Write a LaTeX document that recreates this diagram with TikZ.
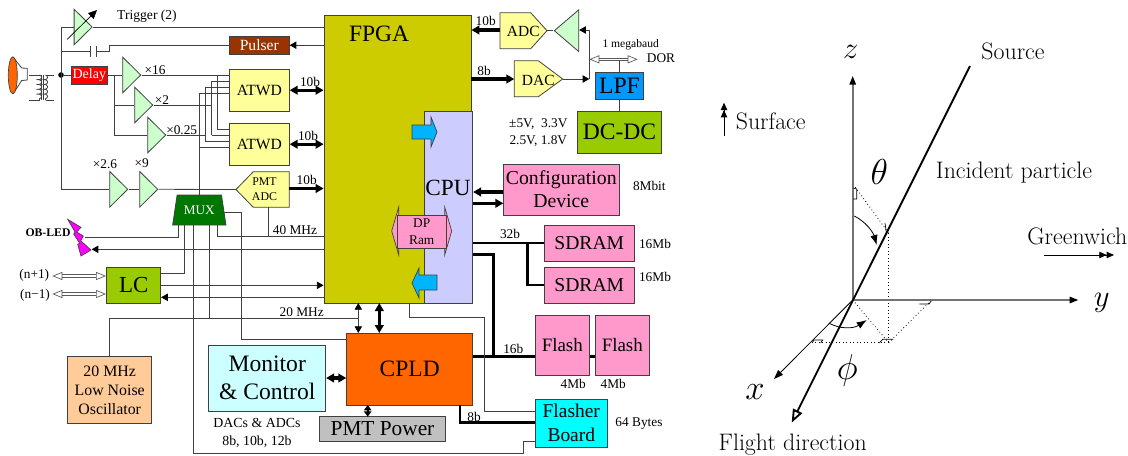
\documentclass[tikz,border=0pt]{standalone}
\usepackage{fix-cm}
\usepackage{fontspec}
\usetikzlibrary{arrows.meta,shapes.geometric,decorations.pathmorphing}
\newfontfamily\timesfont{Liberation Serif}
\definecolor{fpgacol}{HTML}{CCCC00}
\definecolor{cpucol}{HTML}{CCCCFF}
\definecolor{ampcol}{HTML}{CCFFCC}
\definecolor{yellowcol}{HTML}{FFFF99}
\definecolor{pinkcol}{HTML}{FF99CC}
\definecolor{limecol}{HTML}{99CC00}
\definecolor{muxcol}{HTML}{007700}
\definecolor{arrowcol}{HTML}{00B4FF}
\definecolor{linecol}{HTML}{404040}
\definecolor{flashercol}{HTML}{00FFFF}
\definecolor{ledcol}{HTML}{FF00FF}
\tikzset{
    block/.style 2 args={
        draw=linecol,
        line width=0.6pt,
        inner sep=0pt,
        align=center,
        minimum width=#1*0.75pt,
        minimum height=#2*0.75pt
    },
    txt/.style 2 args={font=\timesfont\fontsize{#1}{#2}\selectfont},
    lbl/.style={inner sep=0pt,align=center,txt={10}{12.4}},
    cmlbl/.style={inner sep=0pt,font=\fontsize{17.9}{21}\selectfont},
    mathlbl/.style={inner sep=0pt,font=\fontsize{23}{27}\selectfont},
    amp/.style={
        isosceles triangle,
        isosceles triangle stretches,
        draw=linecol,
        line width=0.6pt,
        fill=ampcol,
        inner sep=0pt,
        minimum width=35.6*0.75pt,
        minimum height=18*0.75pt
    },
    conv/.style={draw=linecol,line width=0.6pt,fill=yellowcol},
    ramarrow/.style={draw=linecol,line width=0.5pt,fill=arrowcol},
    ramhead/.style={draw=linecol,line width=0.5pt,fill=pinkcol},
    wire/.style={draw=linecol,line width=0.6pt},
    wireto/.style={wire,-{Triangle[black,length=5pt,width=5.5pt]}},
    wireboth/.style={wire,{Triangle[black,length=5pt,width=5.5pt]}-{Triangle[black,length=5pt,width=5.5pt]}},
    bus/.style={draw=black,line width=1.9pt},
    busto/.style={draw=black,line width=2.4pt,-{Triangle[length=6pt,width=6.5pt]}},
    busboth/.style={draw=black,line width=2.4pt,{Triangle[length=6pt,width=6.5pt]}-{Triangle[length=6pt,width=6.5pt]}},
    hollow/.style={
        draw=black!65,
        line width=0.7pt,
        double=white,
        double distance=1pt,
        {Triangle[open,fill=white,line width=0.5pt,length=7.5pt,width=6pt]}-{Triangle[open,fill=white,line width=0.5pt,length=7.5pt,width=6pt]}
    },
    axisline/.style={draw=black!55,line width=1.2pt,-{Triangle[black,length=6.5pt,width=4.8pt]}},
    guide/.style={draw=black,line width=0.6pt,dotted},
    tick/.style={draw=black,line width=0.5pt},
    bent/.style={draw=black,line width=0.6pt,-{Latex[length=7.5pt,width=5.5pt]}},
    twotip/.style={draw=black,line width=0.6pt,-{Triangle[length=5.5pt,width=4.8pt] Triangle[length=5.5pt,width=4.8pt]}}
}
\begin{document}
\begin{tikzpicture}[x=0.75pt,y=-0.75pt]
    \useasboundingbox (0,0) rectangle (1128,455);

    % Main chips
    \node[block={147}{288},fill=fpgacol] (fpga) at (397.5,159) {};
    \node[block={48.4}{192},fill=cpucol] (cpu) at (448.5,207) {};
    \node[lbl,txt={17.6}{21}] (fpgalbl) at (379,34) {FPGA};
    \node[lbl,txt={17.4}{21}] (cpulbl) at (448,188) {CPU};
    \draw[ramarrow] (412,125) -- (431,125) -- (431,117) -- (437,132) -- (431,147) -- (431,139) -- (412,139) -- cycle;
    \draw[ramarrow] (437,275) -- (419,275) -- (419,268) -- (412,283) -- (419,298) -- (419,290) -- (437,290) -- cycle;
    \draw[ramhead] (398.7,207) -- (391.7,231) -- (398.7,255) -- cycle;
    \draw[ramhead] (444.7,207) -- (451.7,231) -- (444.7,255) -- cycle;
    \node[block={48.7}{33},fill=pinkcol,txt={10}{12.3}] (dpram) at (421.7,231.5) {DP\\Ram};

    % Blocks
    \node[block={60}{18.3},fill={rgb,255:red,153;green,51;blue,0},text=white,txt={11.7}{14}] (pulser) at (259.3,45.2) {Pulser};
    \node[block={36.7}{18},fill=red,text=white,txt={10.5}{12}] (delay) at (89.3,75) {Delay};
    \node[block={60}{41.7},fill=yellowcol,txt={11.7}{14}] (atwda) at (259.3,90.2) {ATWD};
    \node[block={60}{41.7},fill=yellowcol,txt={11.7}{14}] (atwdb) at (259.3,144.2) {ATWD};
    \node[block={54}{36},fill=limecol,txt={17.2}{20}] (lc) at (133.7,285.3) {LC};
    \node[block={84}{66.6},fill={rgb,255:red,255;green,204;blue,153},txt={11.9}{14.2}] (osc) at (109.7,390) {20 MHz\\Low Noise\\Oscillator};
    \node[block={117}{66},fill={rgb,255:red,204;green,255;blue,255},txt={17.7}{21}] (monitor) at (267.2,378) {Monitor\\\& Control};
    \node[block={126}{72},fill={rgb,255:red,255;green,102;blue,0},txt={17.6}{21}] (cpld) at (409.7,369) {CPLD};
    \node[block={126.4}{24.3},fill={rgb,255:red,192;green,192;blue,192},txt={16}{19}] (pmtpower) at (382.5,428.9) {PMT Power};
    \node[block={72}{47.7},fill=flashercol,txt={14.6}{18}] (flasher) at (571.3,423.2) {Flasher\\Board};
    \node[block={54}{59.7},fill=pinkcol,txt={14.2}{17}] (flasha) at (562.3,345.2) {Flash};
    \node[block={54}{59.7},fill=pinkcol,txt={14.2}{17}] (flashb) at (622.3,345.2) {Flash};
    \node[block={90}{36.3},fill=pinkcol,txt={14.7}{17}] (sdrama) at (589.3,243.2) {SDRAM};
    \node[block={90}{35.7},fill=pinkcol,txt={14.7}{17}] (sdramb) at (589.3,285.2) {SDRAM};
    \node[block={116}{51},fill=pinkcol,txt={14.8}{17.3}] (config) at (561.3,189.5) {Configuration\\Device};
    \node[block={47.6}{26.6},fill={rgb,255:red,0;green,153;blue,255},txt={17.7}{21}] (lpf) at (619.5,86) {LPF};
    \node[block={84.4}{42.3},fill=limecol,txt={17.7}{21}] (dcdc) at (619.5,132.2) {DC-DC};
    \node[trapezium,trapezium stretches=true,trapezium left angle=70.5,trapezium right angle=70.5,draw=linecol,line width=0.6pt,fill=muxcol,text=white,inner sep=0pt,txt={9.9}{12},minimum width=53.3*0.75pt,minimum height=30*0.75pt] (mux) at (199.3,210) {MUX};

    % Converters
    \coordinate (pmtw) at (236,189.5);
    \coordinate (pmte) at (289.3,188.5);
    \coordinate (pmts) at (268.3,207.3);
    \coordinate (adcw) at (500,30);
    \coordinate (adce) at (547,30.7);
    \coordinate (dacw) at (514.3,79);
    \coordinate (dace) at (562.7,79);
    \draw[conv] (pmtw) -- (253.3,171.7) -- (289.3,171.7) -- (289.3,207.3) -- (253.3,207.3) -- cycle;
    \draw[conv] (500,12.7) -- (530.7,12.7) -- (adce) -- (530.7,48.7) -- (500,48.7) -- cycle;
    \draw[conv] (514.3,60.7) -- (538.3,60.7) -- (dace) -- (538.3,96.7) -- (514.3,96.7) -- cycle;
    \node[lbl,txt={8.9}{11}] (pmtadc) at (264.5,189.4) {PMT\\ADC};
    \node[lbl,txt={11.6}{14}] (adc) at (523.3,31.5) {ADC};
    \node[lbl,txt={11.6}{14}] (dac) at (538.3,80) {DAC};

    % Amplifiers
    \node[amp,anchor=lower side] (trig) at (73.7,27) {};
    \node[amp,anchor=lower side] (ampa) at (122.3,75) {};
    \node[amp,anchor=lower side] (ampb) at (134.3,105) {};
    \node[amp,anchor=lower side] (ampc) at (147.3,135) {};
    \node[amp,anchor=lower side] (ampd) at (109.3,189.3) {};
    \node[amp,anchor=lower side] (ampe) at (139.3,189.3) {};
    \node[amp,shape border rotate=180,anchor=apex,minimum width=41.7*0.75pt,minimum height=24.4*0.75pt] (ampf) at (553.3,30.7) {};

    % Tube and transformer
    \draw[wire,fill=white] (13,57) -- (21.7,68) -- (27.3,68.3) -- (27.3,80) -- (21.7,80.5) -- (13,94);
    \node[ellipse,draw=linecol,line width=0.5pt,fill={rgb,255:red,255;green,102;blue,0},inner sep=0pt,minimum width=9*0.75pt,minimum height=37*0.75pt] (pmt) at (12.8,75.3) {};
    \coordinate (pria) at (39.5,75);
    \coordinate (prib) at (39.5,100);
    \coordinate (seca) at (45.5,75);
    \coordinate (secb) at (45.5,100);
    \draw[wire] (29.3,75) -- (pria);
    \draw[wire] (29.3,100) -- (prib);
    \draw[wire] (seca) -- (54,75);
    \draw[wire] (secb) -- (54,100);
    \draw[wire,decorate,decoration={coil,aspect=0.5,amplitude=1.6pt,segment length=3.6pt}] (pria) -- (prib);
    \draw[wire,decorate,decoration={coil,aspect=0.5,amplitude=1.6pt,segment length=3.6pt}] (seca) -- (secb);
    \draw[wire] (41.8,75) -- (41.8,100);
    \draw[wire] (43.4,75) -- (43.4,100);
    \node[circle,fill=black,inner sep=0pt,minimum size=4.2pt] (jdot) at (61,75) {};

    % Analog wires
    \coordinate (jtop) at (61,27);
    \coordinate (jcap) at (61,51.7);
    \coordinate (jrow) at (61,189.3);
    \coordinate (capa) at (90.7,51.7);
    \coordinate (capb) at (96,51.7);
    \coordinate (capc) at (109.3,51.7);
    \coordinate (gaina) at (67,39.5);
    \coordinate (gainb) at (97,10);
    \draw[wire] (jtop) -- (jrow);
    \draw[wire] (jtop) -- (trig.lower side);
    \draw[wire] (trig.apex) -- (trig.apex -| fpga.west);
    \draw[draw=black,line width=0.5pt,-{Triangle[length=6.5pt,width=6pt]}] (gaina) -- (gainb);
    \draw[wire] (jcap) -- (capa);
    \draw[wire] (90.7,45.7) -- (90.7,57.3);
    \draw[wire] (96,45.7) -- (96,57.3);
    \draw[wire] (capb) -- (capc) |- (pulser.west);
    \draw[wireto] (pulser.east -| fpga.west) -- (pulser.east);
    \draw[wire] (jdot) -- (delay.west);
    \draw[wire] (delay.east) -- (ampa.lower side);
    \coordinate (jsplit) at (114,75);
    \draw[wire] (jsplit) |- (ampb.lower side);
    \draw[wire] (jsplit) |- (ampc.lower side);
    \draw[wire] (jrow) -- (ampd.lower side);
    \draw[wire] (ampd.apex) -- (ampe.lower side);
    \draw[wire] (ampe.apex) -- (pmtw);

    % Bus to the ATWDs
    \coordinate (busa) at (217.3,75.3);
    \coordinate (busb) at (211.7,81);
    \coordinate (busc) at (205.3,87.3);
    \coordinate (busd) at (199,93.3);
    \coordinate (buse) at (217.3,129.3);
    \coordinate (busf) at (211.7,135);
    \coordinate (busg) at (205.3,141);
    \coordinate (bush) at (199,147.3);
    \draw[wire] (ampa.apex) -- (ampa.apex -| atwda.west);
    \draw[wire] (busb) -- (busb -| atwda.west);
    \draw[wire] (busc) -- (busc -| atwda.west);
    \draw[wire] (busd) -- (busd -| atwda.west);
    \draw[wire] (buse) -- (buse -| atwdb.west);
    \draw[wire] (busf) -- (busf -| atwdb.west);
    \draw[wire] (busg) -- (busg -| atwdb.west);
    \draw[wire] (bush) -- (bush -| atwdb.west);
    \draw[wire] (busa) -- (buse);
    \draw[wire] (busb) -- (busf);
    \draw[wire] (busc) -- (busg);
    \draw[wire] (busd) -- (199,195);
    \draw[wire] (ampb.apex) -- (211.7,105);
    \draw[wire] (ampc.apex) -- (busg |- ampc.apex);

    % Around the MUX
    \coordinate (muxa) at (178.3,225);
    \coordinate (muxb) at (184.7,225);
    \coordinate (muxc) at (193.7,225);
    \coordinate (muxd) at (209.3,225);
    \coordinate (muxe) at (217.7,225);
    \coordinate (muxf) at (221.7,212.7);
    \coordinate (ledin) at (85,237.3);
    \coordinate (ledtip) at (91.7,249.3);
    \coordinate (clkin) at (358.3,318.3);
    \coordinate (clkup) at (358.3,303);
    \coordinate (clkdn) at (358.3,333);
    \coordinate (flout) at (523.3,453.3);
    \coordinate (flin) at (535.3,441.7);
    \coordinate (mcin) at (346.7,339);
    \coordinate (clkadc) at (268.3,236.7);
    \draw[wire] (muxa) |- (ledin);
    \draw[wire] (muxb) |- (lc.east |- 0,273.3);
    \draw[wire] (muxc) |- (flout) |- (flin);
    \draw[wire] (muxd) -- (muxd |- clkin);
    \draw[wire] (muxe) |- (clkadc) -- (pmts);
    \draw[wire] (clkadc) -- (clkadc -| fpga.west);
    \draw[wire] (muxf) -| (241.7,339) -- (mcin);
    \draw[wireto] (fpga.west |- ledtip) -- (ledtip);
    \draw[draw=linecol,line width=0.5pt,fill=ledcol] (67.7,219.3) -- (81,227.3) -- (76.7,232) -- (83.3,236) -- (80.7,240.7) -- (91,250) -- (81,256) -- (77.7,244.3) -- (79.7,243.3) -- (73.7,234) -- (75,232) -- cycle;
    \coordinate (npa) at (52.3,276);
    \coordinate (npb) at (106,276);
    \coordinate (nma) at (52.3,294);
    \coordinate (nmb) at (106,294);
    \draw[hollow] (npa) -- (npb);
    \draw[hollow] (nma) -- (nmb);
    \draw[wireto] (lc.east |- 0,285.3) -- (fpga.west |- 0,285.3);
    \draw[wireto] (fpga.west |- 0,297.3) -- (lc.east |- 0,297.3);
    \draw[wire] (osc.north) |- (clkin);
    \draw[wireboth] (clkup) -- (clkdn);

    % Digital buses
    \coordinate (ctlup) at (379.3,303);
    \coordinate (ctldn) at (379.3,333);
    \coordinate (cfgin) at (503.3,192);
    \coordinate (cfgout) at (503.3,203.3);
    \coordinate (jram) at (527.3,243);
    \coordinate (cpub) at (472.7,254.3);
    \coordinate (jflash) at (493.3,356.7);
    \coordinate (cpldr) at (472.7,356.7);
    \coordinate (cpldb) at (460,405);
    \coordinate (flbus) at (535.3,422.7);
    \coordinate (fpgab) at (409.3,303);
    \coordinate (jfl) at (484,317.3);
    \coordinate (flsig) at (535.3,411);
    \draw[busboth] (atwda.east) -- (atwda.east -| fpga.west);
    \draw[busboth] (atwdb.east) -- (atwdb.east -| fpga.west);
    \draw[busto] (pmte) -- (pmte -| fpga.west);
    \draw[busto] (adcw) -- (adcw -| fpga.east);
    \draw[busto] (dacw -| fpga.east) -- (dacw);
    \draw[busto] (cfgin) -- (cfgin -| cpu.east);
    \draw[busto] (cfgout -| cpu.east) -- (cfgout);
    \draw[bus] (cpu.east |- sdrama.west) -- (sdrama.west);
    \draw[bus] (jram) |- (sdramb.west);
    \draw[bus] (cpub) -| (jflash);
    \draw[bus] (cpldr) -- (cpldr -| flasha.west);
    \draw[bus] (flasha.east |- cpldr) -- (flashb.west |- cpldr);
    \draw[bus] (cpldb) |- (flbus);
    \draw[wire] (fpgab) |- (jfl) |- (flsig);
    \draw[busboth] (ctlup) -- (ctldn);
    \draw[busboth] (monitor.east) -- (cpld.west |- monitor.east);
    \draw[draw=black,line width=1.4pt,{Triangle[length=4pt,width=5.5pt]}-{Triangle[length=4pt,width=5.5pt]}] (367.7,405) -- (367.7,416.7);

    % Feedback and supply
    \coordinate (jdor) at (589.3,59.3);
    \coordinate (jdorb) at (637.7,59.3);
    \coordinate (jdac) at (589.3,79);
    \coordinate (ampin) at (589.3,30);
    \draw[wire] (adce) -- (ampf.apex);
    \draw[wireto] (dace) -- (jdac);
    \draw[wire] (jdac) -- (ampin);
    \draw[wireto] (ampin) -- (ampin -| ampf.lower side);
    \draw[wire,line width=0.9pt] (lpf.north) -- (lpf.north |- jdor);
    \draw[hollow] (jdor) -- (jdorb);
    \draw[wire,line width=0.9pt] (lpf.south) -- (dcdc.north);

    % Labels
    \node[lbl,txt={10.2}{12}] (trigl) at (147,16) {Trigger (2)};
    \node[lbl] (xa) at (155,70) {×16};
    \node[lbl] (xb) at (162,100) {×2};
    \node[lbl] (xc) at (181.7,130) {×0.25};
    \node[lbl] (xd) at (105,164) {×2.6};
    \node[lbl] (xe) at (141.7,163) {×9};
    \node[lbl] (ba) at (310,82) {10b};
    \node[lbl] (bb) at (308,136) {10b};
    \node[lbl] (bc) at (306.7,180) {10b};
    \node[lbl] (bd) at (485.7,21) {10b};
    \node[lbl] (be) at (484,71) {8b};
    \node[lbl] (bf) at (510,234.3) {32b};
    \node[lbl] (bg) at (513.3,349.3) {16b};
    \node[lbl] (bh) at (474,416.7) {8b};
    \node[lbl] (mhza) at (295,230) {40 MHz};
    \node[lbl] (mhzb) at (301.7,312.5) {20 MHz};
    \node[lbl,font=\timesfont\bfseries\fontsize{8.8}{10.5}\selectfont] (oblabel) at (48,233) {OB-LED};
    \node[lbl] (np) at (34.3,275) {(n+1)};
    \node[lbl] (nm) at (35,295.3) {(n−1)};
    \node[lbl,txt={10.4}{13.2}] (dacs) at (257,433) {DACs \& ADCs\\8b, 10b, 12b};
    \node[lbl] (sa) at (655,244) {16Mb};
    \node[lbl] (sb) at (655,277) {16Mb};
    \node[lbl] (fa) at (573.3,384) {4Mb};
    \node[lbl] (fb) at (613.3,384) {4Mb};
    \node[lbl] (bytes) at (639,424) {64 Bytes};
    \node[lbl] (mbit) at (649.3,185.7) {8Mbit};
    \node[lbl,txt={8.7}{10.5}] (baud) at (630.7,44.3) {1 megabaud};
    \node[lbl] (dor) at (661,58.3) {DOR};
    \node[lbl,txt={10}{12.6}] (volts) at (538.3,132.5) {±5V,\ \ 3.3V\\2.5V, 1.8V};

    % Coordinate system
    \coordinate (orig) at (852.7,300);
    \coordinate (zend) at (852.7,76);
    \coordinate (yend) at (1078.3,300);
    \coordinate (xend) at (774,379);
    \coordinate (src) at (970,66);
    \coordinate (dest) at (791.7,422.7);
    \coordinate (ptop) at (888.7,233.3);
    \coordinate (pbase) at (888.7,342.7);
    \coordinate (pz) at (853.3,184.3);
    \coordinate (py) at (931.7,300);
    \coordinate (px) at (811.7,342.7);
    \draw[guide] (pz) -- (ptop);
    \draw[guide] (ptop) -- (pbase);
    \draw[guide] (orig) -- (pbase);
    \draw[guide] (pbase) -- (py);
    \draw[guide] (pbase) -- (px);
    \draw[axisline] (orig) -- (zend);
    \draw[axisline] (orig) -- (yend);
    \draw[draw=black,line width=0.6pt,-{Triangle[length=7pt,width=5pt]}] (orig) -- (xend);
    \draw[draw=black,line width=1.4pt,-{Triangle[open,fill=white,length=10pt,width=7.5pt]}] (src) -- (dest);
    \draw[tick] (853.3,188) -- (856.7,189) -- (856.7,199) -- (853.3,199);
    \draw[tick] (885,223) -- (886.7,235);
    \draw[tick] (812,343) -- (814,340) -- (822.7,340) -- (820.7,343);
    \draw[tick] (879.3,343) -- (882.7,339.3) -- (893.3,339.3);
    \draw[tick] (919.3,304) -- (929,304) -- (931.3,300.7);
    \draw[bent] (854.3,216) .. controls (866,222) and (873,232) .. (876.7,245);
    \draw[bent] (829.3,323.3) .. controls (840,329) and (853,329) .. (866.7,320);
    \draw[twotip] (724,135.7) -- (724,102.7);
    \draw[twotip] (1044,255) -- (1114,255);
    \node[mathlbl] (zlbl) at (850.7,51.7) {$z$};
    \node[mathlbl] (ylbl) at (1101.7,303) {$y$};
    \node[mathlbl,font=\fontsize{26}{30}\selectfont] (xlbl) at (755,391.7) {$x$};
    \node[mathlbl,font=\fontsize{27}{31}\selectfont] (thetalbl) at (879.3,172) {$\theta$};
    \node[mathlbl,font=\fontsize{27}{31}\selectfont] (philbl) at (847.3,370) {$\phi$};
    \node[cmlbl] (srclbl) at (1013,51.7) {Source};
    \node[cmlbl] (inclbl) at (1014,173) {Incident particle};
    \node[cmlbl] (fltlbl) at (792.7,445) {Flight direction};
    \node[cmlbl] (surlbl) at (770.7,121) {Surface};
    \node[cmlbl] (grnlbl) at (1077.3,236) {Greenwich};
\end{tikzpicture}
\end{document}
